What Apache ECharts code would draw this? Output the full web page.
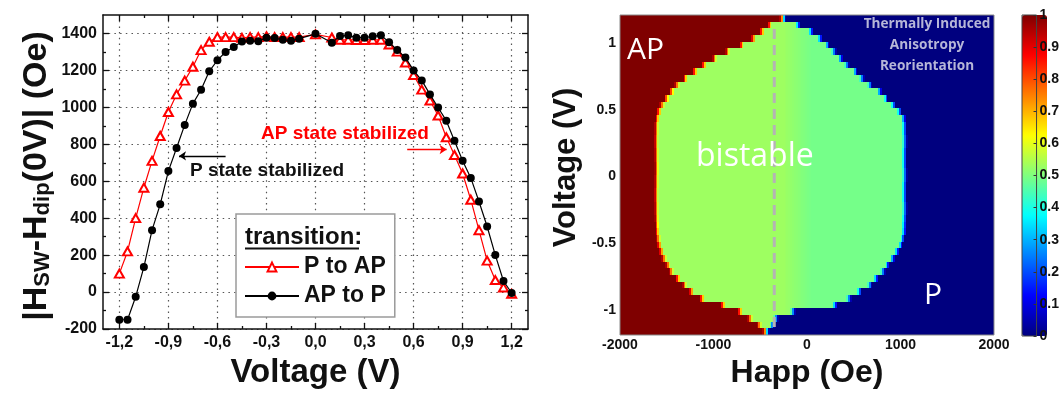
<!DOCTYPE html>
<html>
<head>
<meta charset="utf-8">
<script src="https://cdn.jsdelivr.net/npm/echarts@6/dist/echarts.min.js"></script>
<style>
  html, body { margin: 0; padding: 0; background: #ffffff; }
  #chart { width: 1062px; height: 394px; }
</style>
</head>
<body>
<div id="chart"></div>
<script>
// ---- Switching field |Hsw - Hdip(0V)| versus bias voltage ----
const voltages = [-1.2, -1.15, -1.1, -1.05, -1.0, -0.95, -0.9, -0.85, -0.8, -0.75, -0.7, -0.65,
  -0.6, -0.55, -0.5, -0.45, -0.4, -0.35, -0.3, -0.25, -0.2, -0.15, -0.1, 0.0,
  0.1, 0.15, 0.2, 0.25, 0.3, 0.35, 0.4, 0.45, 0.5, 0.55, 0.6, 0.65, 0.7, 0.75,
  0.8, 0.85, 0.9, 0.95, 1.0, 1.05, 1.1, 1.15, 1.2];
const pToAP = [100, 220, 400, 565, 710, 845, 975, 1070, 1145, 1220, 1310, 1355,
  1380, 1380, 1380, 1376, 1380, 1380, 1385, 1380, 1380, 1380, 1380, 1395,
  1378, 1366, 1366, 1365, 1365, 1366, 1366, 1340, 1302, 1243, 1175, 1096, 1037, 956,
  838, 742, 642, 500, 335, 170, 65, 25, -10];
const apToP = [-150, -150, -25, 135, 335, 475, 655, 780, 905, 1020, 1095, 1195,
  1255, 1300, 1327, 1357, 1360, 1358, 1377, 1375, 1366, 1360, 1372, 1398,
  1350, 1386, 1390, 1377, 1377, 1385, 1390, 1353, 1310, 1270, 1200, 1146, 1070, 999,
  928, 819, 711, 618, 490, 355, 200, 60, -5];
const voltageTicks = [-1.2, -0.9, -0.6, -0.3, 0, 0.3, 0.6, 0.9, 1.2];
const voltageMinorTicks = [-1.05, -0.75, -0.45, -0.15, 0.15, 0.45, 0.75, 1.05];
const fieldTicks = [-200, 0, 200, 400, 600, 800, 1000, 1200, 1400];
const fieldMinorTicks = [-100, 100, 300, 500, 700, 900, 1100, 1300];
const arrowP = [[-0.55, 737], [-0.835, 737]];
const arrowAP = [[0.561, 772], [0.802, 772]];

// ---- State map: edges of the bistable window for each voltage row ----
const voltageRows = [1.185, 1.135, 1.085, 1.035, 0.985, 0.935, 0.885, 0.835, 0.785, 0.735, 0.685, 0.635,
  0.585, 0.535, 0.485, 0.435, 0.385, 0.335, 0.285, 0.235, 0.185, 0.135, 0.085, 0.035,
  -0.015, -0.065, -0.115, -0.165, -0.215, -0.265, -0.315, -0.365, -0.415, -0.465, -0.515, -0.565,
  -0.615, -0.665, -0.715, -0.765, -0.815, -0.865, -0.915, -0.965, -1.015, -1.065, -1.115, -1.165];
// field (Oe) where the AP region ends
const apEdge = [-270, -400, -480, -575, -700, -850, -990, -1100, -1200, -1300, -1390, -1445,
  -1505, -1550, -1580, -1600, -1610, -1610, -1612, -1612, -1610, -1610, -1608, -1608,
  -1610, -1610, -1612, -1612, -1610, -1610, -1608, -1605, -1600, -1590, -1575, -1555,
  -1530, -1490, -1450, -1380, -1310, -1235, -1120, -900, -720, -610, -510, -450];
// field (Oe) where the P region starts
const pEdge = [-250, -100, 40, 140, 215, 290, 355, 430, 515, 590, 670, 775,
  845, 925, 985, 1035, 1045, 1045, 1048, 1048, 1045, 1045, 1045, 1048,
  1048, 1045, 1045, 1045, 1048, 1048, 1045, 1042, 1040, 1025, 1000, 960,
  915, 860, 810, 740, 670, 565, 450, 300, -150, -330, -370, -430];
const levelAP = 1;
const levelP = 0;
const bistableLevels = [0.53, 0.49];   // low-field / high-field side of the window
const bistableSplit = -100;
const happRange = [-2000, 2000];
const happStep = 20;
const rowStep = 0.05;
const voltageRange = [-1.19, 1.21];
const stateTicks = [-1, -0.5, 0, 0.5, 1];
const dashedField = -350;
const dashedSpan = [1.105, -1.13];

const sans = '"Liberation Sans", Arial, sans-serif';
const soft = '"Open Sans", "Noto Sans", sans-serif';
const jet = ['#00007f', '#0000ff', '#007fff', '#00ffff', '#7fff7f', '#ffff00', '#ff7f00', '#ff0000', '#7f0000'];
const plain = (v) => String(Math.round(v * 1000) / 1000);

// cells of the state map built from the row edges (edges blend over ~edgeWidth Oe)
const edgeWidth = 50;
function clamp01(t) { return Math.max(0, Math.min(1, t)); }
function stateLevel(h, r) {
  const toAP = clamp01((apEdge[r] - h) / edgeWidth + 0.5);
  const toP = clamp01((h - pEdge[r]) / edgeWidth + 0.5);
  const side = clamp01((h - bistableSplit) / 300 + 0.5);
  const green = bistableLevels[0] * (1 - side) + bistableLevels[1] * side;
  const mid = (1 - toP) * green + toP * levelP;
  return toAP * levelAP + (1 - toAP) * mid;
}
const stateCells = [];
voltageRows.forEach(function (v, r) {
  for (let h = happRange[0] + happStep / 2; h < happRange[1]; h += happStep) {
    stateCells.push([h, v, stateLevel(h, r)]);
  }
});

const frame = { show: true, onZero: false, lineStyle: { color: '#111', width: 1.5 } };
const noLine = { show: false, onZero: false };
const dotted = { show: true, lineStyle: { color: '#555', width: 1.2, type: [1.5, 4.2] } };
const vRange = { min: -1.3, max: 1.3 };
const fRange = { min: -200, max: 1500 };

function leftX(extra) {
  return Object.assign({ type: 'value', gridIndex: 0, min: vRange.min, max: vRange.max,
    axisLine: frame, splitLine: { show: false }, axisLabel: { show: false } }, extra);
}
function leftY(extra) {
  return Object.assign({ type: 'value', gridIndex: 0, min: fRange.min, max: fRange.max,
    axisLine: frame, splitLine: { show: false }, axisLabel: { show: false } }, extra);
}
const majorTick = (vals) => ({ show: true, inside: true, length: 6, customValues: vals, lineStyle: { color: '#111', width: 1.3 } });
const minorTick = (vals) => ({ show: true, inside: true, length: 3, customValues: vals, lineStyle: { color: '#111', width: 1.3 } });

const option = {
  animation: false,
  backgroundColor: '#ffffff',
  grid: [
    { left: 103, top: 15, width: 425, height: 317 },
    { left: 620, top: 15, width: 374, height: 321, show: true, borderColor: '#8a8a8a', borderWidth: 1, z: 10 },
    { left: 1022, top: 15, width: 25, height: 321, show: true, borderColor: '#444', borderWidth: 1, z: 10 }
  ],
  xAxis: [
    leftX({ position: 'bottom', axisTick: majorTick(voltageTicks), splitLine: dotted,
      axisLabel: { show: true, customValues: voltageTicks, margin: 6, fontSize: 16, fontWeight: 'bold', color: '#111', fontFamily: sans,
        formatter: (v) => v.toFixed(1).replace('.', ',') },
      name: 'Voltage (V)', nameLocation: 'middle', nameGap: 27,
      nameTextStyle: { fontSize: 33, fontWeight: 'bold', color: '#111', fontFamily: sans } }),
    leftX({ position: 'bottom', axisLine: noLine, axisTick: minorTick(voltageMinorTicks) }),
    leftX({ position: 'top', axisTick: majorTick(voltageTicks) }),
    leftX({ position: 'top', axisLine: noLine, axisTick: minorTick(voltageMinorTicks) }),
    { type: 'value', gridIndex: 1, min: happRange[0], max: happRange[1], interval: 1000,
      axisLine: noLine, axisTick: { show: false }, splitLine: { show: false },
      axisLabel: { margin: 3, fontSize: 14, fontWeight: 'bold', color: '#111', fontFamily: sans, formatter: plain },
      name: 'Happ (Oe)', nameLocation: 'middle', nameGap: 22,
      nameTextStyle: { fontSize: 32, fontWeight: 'bold', color: '#111', fontFamily: sans } },
    { type: 'value', gridIndex: 2, min: 0, max: 1, show: false }
  ],
  yAxis: [
    leftY({ position: 'left', axisTick: majorTick(fieldTicks), splitLine: dotted,
      axisLabel: { show: true, customValues: fieldTicks, margin: 6, fontSize: 16, fontWeight: 'bold', color: '#111', fontFamily: sans, formatter: plain },
      name: '{m||H}{s|SW}{m|-H}{s|dip}{m|(0V)| (Oe)}', nameLocation: 'middle', nameGap: 49, nameRotate: 90,
      nameTextStyle: {
        padding: [0, 8, 0, 0],
        rich: {
          m: { fontSize: 34, fontWeight: 'bold', color: '#111', fontFamily: sans, lineHeight: 45, verticalAlign: 'bottom' },
          s: { fontSize: 22, fontWeight: 'bold', color: '#111', fontFamily: sans, lineHeight: 22, verticalAlign: 'bottom' }
        }
      } }),
    leftY({ position: 'left', axisLine: noLine, axisTick: minorTick(fieldMinorTicks) }),
    leftY({ position: 'right', axisTick: majorTick(fieldTicks) }),
    leftY({ position: 'right', axisLine: noLine, axisTick: minorTick(fieldMinorTicks) }),
    { type: 'value', gridIndex: 1, min: voltageRange[0], max: voltageRange[1],
      axisLine: noLine, axisTick: { show: false, customValues: stateTicks }, splitLine: { show: false },
      axisLabel: { customValues: stateTicks, margin: 4, fontSize: 14, fontWeight: 'bold', color: '#111', fontFamily: sans, formatter: plain },
      name: 'Voltage (V)', nameLocation: 'middle', nameGap: 38, nameRotate: 90,
      nameTextStyle: { fontSize: 31, fontWeight: 'bold', color: '#111', fontFamily: sans, padding: [0, 0, 0, 15] } },
    { type: 'value', gridIndex: 2, min: 0, max: 1, interval: 0.1, position: 'right', z: 12,
      axisLine: noLine, splitLine: { show: false },
      axisTick: { show: true, inside: true, length: 3, lineStyle: { color: '#333', width: 1 } },
      axisLabel: { margin: 3, fontSize: 14, fontWeight: 'bold', color: '#111', fontFamily: sans, formatter: plain } }
  ],
  visualMap: {
    type: 'continuous', min: 0, max: 1, seriesIndex: 2, dimension: 2,
    calculable: false, hoverLink: false, text: null, padding: 0,
    left: 1022, top: 15, itemWidth: 25, itemHeight: 321,
    inRange: { color: jet }
  },
  legend: {
    left: 236, top: 214, orient: 'vertical', padding: [40, 9, 8, 8],
    backgroundColor: '#ffffff', borderColor: '#9a9a9a', borderWidth: 1.5, borderRadius: 0,
    itemWidth: 54, itemHeight: 11, itemGap: 3,
    textStyle: { fontSize: 23, fontWeight: 'bold', color: '#111', fontFamily: sans, lineHeight: 26 },
    data: ['P to AP', 'AP to P']
  },
  series: [
    {
      name: 'P to AP', type: 'line', xAxisIndex: 0, yAxisIndex: 0,
      data: voltages.map((v, i) => [v, pToAP[i]]),
      symbol: 'emptyTriangle', symbolSize: [9, 8],
      lineStyle: { color: '#ff0000', width: 1.2 },
      itemStyle: { color: '#ff0000', borderWidth: 1.3 },
      z: 3,
      markLine: {
        silent: true, symbol: ['none', 'arrow'], symbolSize: 7, label: { show: false },
        lineStyle: { color: '#ff0000', width: 1.3, type: 'solid' },
        data: [[{ coord: arrowAP[0] }, { coord: arrowAP[1] }]]
      }
    },
    {
      name: 'AP to P', type: 'line', xAxisIndex: 0, yAxisIndex: 0,
      data: voltages.map((v, i) => [v, apToP[i]]),
      symbol: 'circle', symbolSize: 8,
      lineStyle: { color: '#000000', width: 1.2 },
      itemStyle: { color: '#000000' },
      z: 4,
      markLine: {
        silent: true, symbol: ['none', 'arrow'], symbolSize: 7, label: { show: false },
        lineStyle: { color: '#000000', width: 1.3, type: 'solid' },
        data: [[{ coord: arrowP[0] }, { coord: arrowP[1] }]]
      }
    },
    {
      type: 'custom', xAxisIndex: 4, yAxisIndex: 4, data: stateCells,
      encode: { x: 0, y: 1 }, silent: true, clip: true,
      renderItem: function (params, api) {
        const h = api.value(0), v = api.value(1);
        const p0 = api.coord([h - happStep / 2, v + rowStep / 2]);
        const p1 = api.coord([h + happStep / 2, v - rowStep / 2]);
        // snap cell borders to whole pixels so neighbouring cells tile without seams
        const x0 = Math.round(p0[0]), x1 = Math.round(p1[0]);
        const y0 = Math.round(p0[1]), y1 = Math.round(p1[1]);
        return {
          type: 'rect',
          shape: { x: x0, y: y0, width: x1 - x0, height: y1 - y0 },
          style: { fill: api.visual('color') }
        };
      }
    },
    {
      type: 'line', xAxisIndex: 4, yAxisIndex: 4, silent: true, z: 6,
      data: [[dashedField, dashedSpan[0]], [dashedField, dashedSpan[1]]],
      symbol: 'none',
      lineStyle: { color: '#b4b4b4', width: 3, type: [10, 6] }
    }
  ],
  graphic: [
    { type: 'text', x: 190, y: 171, z: 100, style: { text: 'P state stabilized', font: 'bold 19px ' + sans, fill: '#111', verticalAlign: 'middle' } },
    { type: 'text', x: 261, y: 134, z: 100, style: { text: 'AP state stabilized', font: 'bold 19px ' + sans, fill: '#ff0000', verticalAlign: 'middle' } },
    { type: 'text', x: 245, y: 237, z: 100, style: { text: 'transition:', font: 'bold 24px ' + sans, fill: '#111', verticalAlign: 'middle' } },
    { type: 'line', z: 100, shape: { x1: 245, y1: 248.5, x2: 359, y2: 248.5 }, style: { stroke: '#111', lineWidth: 2 } },
    { type: 'text', x: 627, y: 50, z: 100, style: { text: 'AP', font: '30px ' + soft, fill: '#ffffff', verticalAlign: 'middle' } },
    { type: 'text', x: 696, y: 157, z: 100, style: { text: 'bistable', font: '32px ' + soft, fill: '#ffffff', verticalAlign: 'middle' } },
    { type: 'text', x: 924, y: 295, z: 100, style: { text: 'P', font: '30px ' + soft, fill: '#ffffff', verticalAlign: 'middle' } },
    { type: 'text', x: 927, y: 45, z: 100, style: { text: 'Thermally Induced\nAnisotropy\nReorientation', font: 'bold 13.6px ' + soft,
      fill: '#b6b6d8', align: 'center', verticalAlign: 'middle', lineHeight: 20.7 } }
  ]
};

const chart = echarts.init(document.getElementById('chart'), null, { renderer: 'canvas', width: 1062, height: 394 });
chart.setOption(option);
</script>
</body>
</html>
